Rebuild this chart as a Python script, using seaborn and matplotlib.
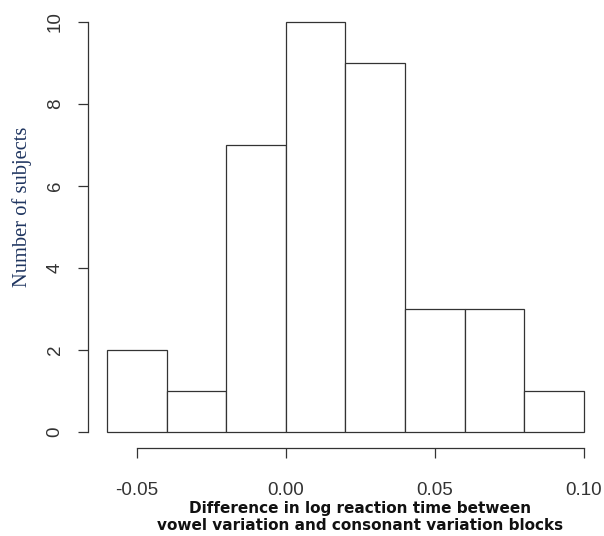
import numpy as np
import seaborn as sns
import matplotlib
matplotlib.use("Agg")
import matplotlib.pyplot as plt

# histogram
bin_edges = [-0.06, -0.04, -0.02, 0.00, 0.02, 0.04, 0.06, 0.08, 0.10]
counts = [2, 1, 7, 10, 9, 3, 3, 1]
x_ticks = [-0.05, 0.00, 0.05, 0.10]
x_tick_labels = ["-0.05", "0.00", "0.05", "0.10"]
y_ticks = [0, 2, 4, 6, 8, 10]

centers = [(a + b) / 2 for a, b in zip(bin_edges[:-1], bin_edges[1:])]

sns.set_style("white")
plt.rcParams['font.family'] = ['Liberation Sans', 'DejaVu Sans']

fig = plt.figure(figsize=(6.04, 5.36), dpi=100)
ax = fig.add_axes([0.1457, 0.1634, 0.8526, 0.8262])

sns.histplot(
    ax=ax,
    x=centers,
    weights=counts,
    bins=bin_edges,
    stat='count',
    color='white',
    edgecolor='#333333',
    linewidth=0.9,
    alpha=1,
)

ax.set_xlim(-0.0664, 0.1064)
ax.set_ylim(-0.4, 10.4)

for s in ['top', 'right']:
    ax.spines[s].set_visible(False)
ax.spines['left'].set_bounds(0, 10)
ax.spines['bottom'].set_bounds(-0.05, 0.10)
for s in ['left', 'bottom']:
    ax.spines[s].set_color('#333333')
    ax.spines[s].set_linewidth(0.9)

ax.set_xticks(x_ticks)
ax.set_xticklabels(x_tick_labels)
ax.set_yticks(y_ticks)
ax.set_yticklabels([str(v) for v in y_ticks], rotation=90, va='center')
ax.tick_params(axis='x', length=7, width=0.9, color='#333333', pad=17,
               labelsize=13.5, labelcolor='#333333', bottom=True)
ax.tick_params(axis='y', length=7.5, width=0.9, color='#333333', pad=10,
               labelsize=13.5, labelcolor='#333333', left=True)

ax.set_xlabel('Difference in log reaction time between\nvowel variation and consonant variation blocks',
              family=['DejaVu Sans'], fontsize=11, fontweight='bold',
              linespacing=1.12, color='#111111')
ax.xaxis.set_label_coords(0.528, -0.119)
ax.set_ylabel('Number of subjects', family=['Liberation Serif', 'DejaVu Serif'],
              fontsize=14.8, color='#1f3560')
ax.yaxis.set_label_coords(-0.108, 0.545)
ax.grid(False)

fig.savefig('out.png', dpi=100)
